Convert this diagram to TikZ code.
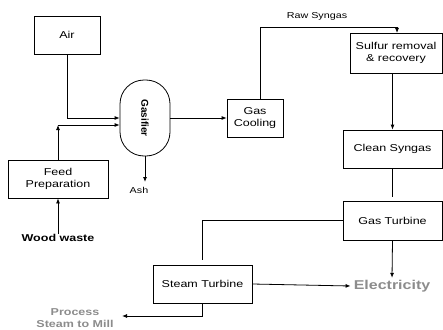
\documentclass[tikz,border=0pt]{standalone}
\usepackage{fontspec}
\usepackage{tikz}
\usetikzlibrary{arrows.meta,positioning}
\usepackage{xcolor}

\newfontfamily\boxfont[FakeStretch=1.25]{Liberation Sans}
\newfontfamily\upfont{Liberation Sans}
\definecolor{outgray}{gray}{0.55}

\tikzset{
  procbox/.style={draw, line width=0.8pt, fill=white, align=center, inner sep=0pt,
    font=\boxfont\fontsize{10}{12}\selectfont},
  flow/.style={line width=0.8pt, -{Latex[length=5pt,width=4pt]}},
  pipe/.style={line width=0.8pt},
  plainlabel/.style={align=center, inner sep=0pt, font=\boxfont\fontsize{8.6}{10}\selectfont},
  boldlabel/.style={align=center, inner sep=0pt, font=\boxfont\bfseries\fontsize{10}{12}\selectfont}
}

\begin{document}
\begin{tikzpicture}[x=1pt, y=-1pt]
    \useasboundingbox (0,0) rectangle (443,329);

    \coordinate (AIR) at (67, 35);
    \coordinate (GASF) at (145, 118);
    \coordinate (FEED) at (58, 179);
    \coordinate (GCOOL) at (255, 118);
    \coordinate (SULF) at (396, 53);
    \coordinate (CLEAN) at (392.5, 149);
    \coordinate (GTURB) at (392.5, 220.5);
    \coordinate (STURB) at (202.5, 284);

    \node [procbox, minimum width=66pt, minimum height=38pt] (air) at (AIR) {Air};
    \node [procbox, minimum width=50pt, minimum height=76pt, rounded corners=24pt] (gasifier) at (GASF) {};
    \node [rotate=-90, inner sep=0pt, font=\upfont\bfseries\fontsize{10}{12}\selectfont] (gaslabel) at (GASF) {Gasifier};
    \node [procbox, minimum width=100pt, minimum height=38pt] (feed) at (FEED) {Feed\\Preparation};
    \node [procbox, minimum width=56pt, minimum height=38pt] (gascool) at (GCOOL) {Gas\\Cooling};
    \node [procbox, minimum width=92pt, minimum height=40pt] (sulfur) at (SULF) {Sulfur removal\\\& recovery};
    \node [procbox, minimum width=99pt, minimum height=38pt] (clean) at (CLEAN) {Clean Syngas};
    \node [procbox, minimum width=99pt, minimum height=39pt] (gasturb) at (GTURB) {Gas Turbine};
    \node [procbox, minimum width=99pt, minimum height=38pt] (steamturb) at (STURB) {Steam Turbine};

    \node [boldlabel] (wood) at (58, 238) {Wood waste};
    \node [plainlabel] (ash) at (139, 190) {Ash};
    \node [plainlabel] (raw) at (317, 16) {Raw Syngas};
    \node [boldlabel, text=outgray, font=\boxfont\bfseries\fontsize{12.8}{14}\selectfont] (elec) at (392, 286) {Electricity};
    \node [boldlabel, text=outgray, anchor=north] (mill) at (75, 308) {Process\\Steam to Mill};

    \coordinate (JOIN) at (58, 125);
    \coordinate (ASHEND) at (145, 182);
    \coordinate (RAWUP) at (260, 99);
    \coordinate (RAWTOP) at (260, 27);
    \coordinate (RAWIN) at (397, 33);
    \coordinate (MILLEND) at (122, 316);

    \draw [flow] (air.south) |- ([yshift=0pt]gasifier.west);
    \draw [flow] (feed.north) -- (JOIN);
    \draw [flow] (JOIN) -- (JOIN -| gasifier.west);
    \draw [flow] (wood.north) -- (feed.south);
    \draw [flow] (gasifier.south) -- (ASHEND);
    \draw [flow] (gasifier.east) -- (gascool.west);
    \draw [flow] (RAWUP) -- (RAWTOP) -| (RAWIN);
    \draw [flow] (clean.north |- sulfur.south) -- (clean.north);
    \draw [pipe] (clean.south) -- ([yshift=4pt]gasturb.north);
    \draw [pipe] (gasturb.west) -| ([yshift=5pt]steamturb.north);
    \draw [flow] (gasturb.south) -- ([yshift=2pt]elec.north);
    \draw [flow] (steamturb.east) -- ([xshift=-3pt]elec.west);
    \draw [flow] (steamturb.south) |- (MILLEND);

\end{tikzpicture}
\end{document}
